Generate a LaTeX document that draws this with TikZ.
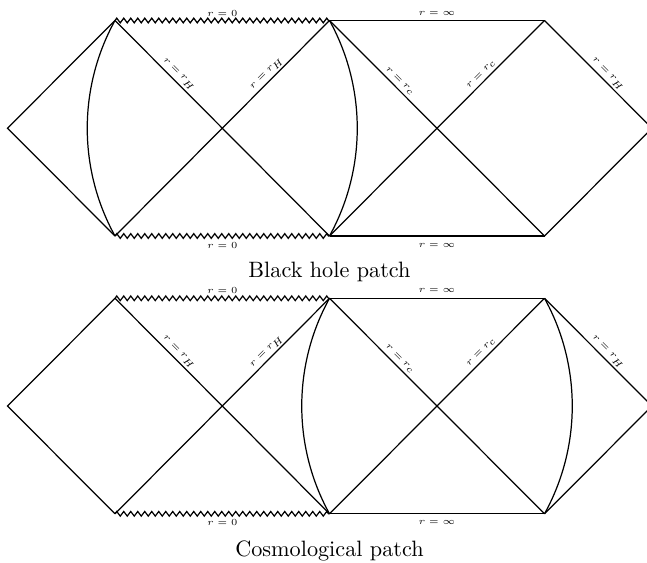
\documentclass[tikz,border=0pt]{standalone}
\usetikzlibrary{decorations.pathmorphing}

\tikzset{every picture/.style={line width=0.55pt}}
\tikzset{
  sing/.style={decorate,decoration={zigzag,segment length=3.15pt,amplitude=1.05pt}},
  hlabel/.style={font=\tiny,scale=0.84,inner sep=0pt},
  blabel/.style={font=\tiny,scale=0.84,inner sep=0pt},
  caption/.style={font=\normalsize,anchor=base,inner sep=0pt}
}

\begin{document}
\begin{tikzpicture}[x=0.45pt,y=0.45pt,yscale=-1,xscale=1]
\useasboundingbox (0,0) rectangle (647,563);

%Black hole patch
\coordinate (bhL) at (7.5,128.2);
\coordinate (bhT1) at (115,20.5);
\coordinate (bhB1) at (115,236);
\coordinate (bhO1) at (222.3,128.2);
\coordinate (bhT2) at (329.5,20.5);
\coordinate (bhB2) at (329.5,236);
\coordinate (bhO2) at (437,128.2);
\coordinate (bhT3) at (544.5,20.5);
\coordinate (bhB3) at (544.5,236);
\coordinate (bhR) at (652,128.2);

%Straight Lines
\draw (bhT1) -- (bhL) -- (bhB1);
\draw (bhT1) -- (bhO1) -- (bhB2);
\draw (bhB1) -- (bhO1) -- (bhT2);
\draw (bhT2) -- (bhO2) -- (bhB3);
\draw (bhB2) -- (bhO2) -- (bhT3);
\draw (bhT3) -- (bhR) -- (bhB3);
\draw (bhT2) -- (bhT3);
\draw (bhB2) -- (bhB3);
%Singularities
\draw[sing] (bhT1) -- (bhT2);
\draw[sing] (bhB1) -- (bhB2);
%Curve Lines
\draw (bhT1) .. controls +(-37,67) and +(-37,-67) .. (bhB1);
\draw (bhT2) .. controls +(37,67) and +(37,-67) .. (bhB2);

% Text Node
\node[hlabel,rotate=-45] (bhlab1) at (178.4,74.6) {$r=r_H$};
\node[hlabel,rotate=45] (bhlab2) at (267.2,74.1) {$r=r_H$};
\node[hlabel,rotate=-45] (bhlab3) at (399.6,81.4) {$r=r_c$};
\node[hlabel,rotate=45] (bhlab4) at (481.4,74.6) {$r=r_c$};
\node[hlabel,rotate=-45] (bhlab5) at (607.6,74.4) {$r=r_H$};
\node[blabel] (bhtop1) at (222.3,13) {$r=0$};
\node[blabel] (bhtop2) at (437,13) {$r=\infty$};
\node[blabel] (bhbot1) at (222.3,245) {$r=0$};
\node[blabel] (bhbot2) at (437,245) {$r=\infty$};
\node[caption] (bhcap) at (329.5,277.5) {Black hole patch};

%Cosmological patch
\coordinate (csL) at (7.5,406);
\coordinate (csT1) at (115,298.3);
\coordinate (csB1) at (115,513.8);
\coordinate (csO1) at (222.3,406);
\coordinate (csT2) at (329.5,298.3);
\coordinate (csB2) at (329.5,513.8);
\coordinate (csO2) at (437,406);
\coordinate (csT3) at (544.5,298.3);
\coordinate (csB3) at (544.5,513.8);
\coordinate (csR) at (652,406);

%Straight Lines
\draw (csT1) -- (csL) -- (csB1);
\draw (csT1) -- (csO1) -- (csB2);
\draw (csB1) -- (csO1) -- (csT2);
\draw (csT2) -- (csO2) -- (csB3);
\draw (csB2) -- (csO2) -- (csT3);
\draw (csT3) -- (csR) -- (csB3);
\draw (csT2) -- (csT3);
\draw (csB2) -- (csB3);
%Singularities
\draw[sing] (csT1) -- (csT2);
\draw[sing] (csB1) -- (csB2);
%Curve Lines
\draw (csT2) .. controls +(-37,67) and +(-37,-67) .. (csB2);
\draw (csT3) .. controls +(37,67) and +(37,-67) .. (csB3);

% Text Node
\node[hlabel,rotate=-45] (cslab1) at (178.4,352.4) {$r=r_H$};
\node[hlabel,rotate=45] (cslab2) at (267.2,351.9) {$r=r_H$};
\node[hlabel,rotate=-45] (cslab3) at (399.6,359.2) {$r=r_c$};
\node[hlabel,rotate=45] (cslab4) at (481.4,352.4) {$r=r_c$};
\node[hlabel,rotate=-45] (cslab5) at (607.6,352.2) {$r=r_H$};
\node[blabel] (cstop1) at (222.3,290.8) {$r=0$};
\node[blabel] (cstop2) at (437,290.8) {$r=\infty$};
\node[blabel] (csbot1) at (222.3,522.8) {$r=0$};
\node[blabel] (csbot2) at (437,522.8) {$r=\infty$};
\node[caption] (cscap) at (329.5,556) {Cosmological patch};

\end{tikzpicture}
\end{document}
